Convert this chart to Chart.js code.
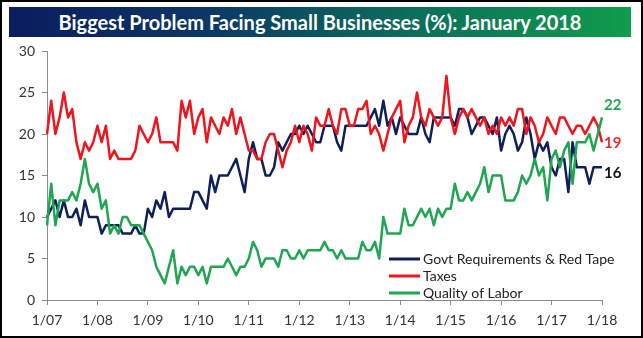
<!DOCTYPE html>
<html>
<head>
<meta charset="utf-8">
<script src="https://cdn.jsdelivr.net/npm/chart.js@4.4.1/dist/chart.umd.min.js"></script>
<style>
  html, body { margin: 0; padding: 0; background: #fff; }
  #wrap { position: relative; width: 643px; height: 338px; overflow: hidden; background: #fff; }
  #banner {
    position: absolute; left: 9px; top: 7px; width: 622px; height: 30px;
    background: linear-gradient(to right, #0b1c5e 0%, #0b3566 30%, #0b6a5c 62%, #0f9d4b 100%);
    color: #fff; font: bold 20px Lato, sans-serif; text-align: center; line-height: 30px;
  }
  #frame { position: absolute; left: 0; top: 0; width: 639px; height: 334px; border: 2px solid #000; pointer-events: none; }
  canvas { position: absolute; left: 0; top: 0; }
</style>
</head>
<body>
<div id="wrap">
  <canvas id="problemsChart" width="643" height="338"></canvas>
  <div id="banner">Biggest Problem Facing Small Businesses (%): January 2018</div>
  <div id="frame"></div>
</div>
<script>
// Monthly survey readings, Jan 2007 through Jan 2018
const yearTicks = ['1/07', '1/08', '1/09', '1/10', '1/11', '1/12', '1/13', '1/14', '1/15', '1/16', '1/17', '1/18'];

const months = [];
for (let y = 7; y <= 18; y++) {
    for (let m = 1; m <= 12; m++) {
        months.push(m + '/' + String(y).padStart(2, '0'));
        if (y === 18) break;
    }
}

const govtRedTape = [
    10, 11, 12, 10, 12, 10, 10, 11, 9, 12, 10, 10,
    10, 8, 9, 9, 9, 9, 8, 8, 8, 9, 8, 8,
    11, 10, 12, 11, 13, 10, 11, 11, 11, 11, 11, 13,
    13, 12, 11, 15, 13, 15, 15, 15, 16, 17, 15, 13,
    17, 19, 17, 17, 15, 15, 16, 19, 18, 19, 20, 20,
    21, 20, 21, 20, 19, 19, 21, 21, 21, 19, 18, 21,
    21, 21, 21, 21, 21, 22, 23, 21, 24, 21, 22, 20,
    22, 21, 20, 20, 20, 22, 20, 19, 22, 22, 22, 22,
    22, 21, 23, 23, 22, 20, 21, 22, 22, 21, 20, 22,
    18, 20, 21, 20, 18, 19, 22, 20, 17, 19, 18, 19,
    16, 15, 17, 17, 13, 19, 16, 16, 16, 14, 16, 16,
    16
];

const taxes = [
    20, 24, 20, 22, 25, 22, 23, 19, 17, 19, 18, 19,
    21, 19, 21, 17, 18, 17, 17, 17, 17, 18, 21, 20,
    19, 20, 22, 19, 19, 19, 19, 18, 24, 22, 24, 20,
    22, 23, 19, 22, 21, 20, 22, 21, 23, 20, 22, 20,
    18, 18, 17, 17, 19, 20, 20, 18, 16, 18, 19, 21,
    19, 21, 20, 18, 22, 21, 21, 23, 21, 20, 23, 23,
    21, 21, 23, 23, 24, 20, 21, 20, 18, 20, 22, 23,
    24, 19, 21, 22, 25, 22, 21, 23, 22, 21, 22, 27,
    22, 20, 22, 23, 22, 23, 22, 21, 22, 20, 21, 20,
    22, 21, 22, 21, 23, 23, 20, 22, 21, 19, 20, 22,
    21, 20, 22, 22, 21, 20, 21, 21, 20, 21, 22, 21,
    19
];

const qualityOfLabor = [
    9, 14, 9, 12, 12, 12, 13, 12, 14, 17, 14, 13,
    14, 11, 12, 8, 9, 8, 10, 10, 9, 9, 9, 8,
    7, 6, 4, 3, 2, 4, 6, 2, 4, 3, 4, 4,
    3, 4, 2, 4, 4, 4, 4, 5, 4, 3, 4, 4,
    5, 7, 6, 4, 5, 5, 5, 4, 6, 6, 5, 5,
    6, 5, 6, 6, 6, 6, 7, 6, 6, 5, 6, 5,
    5, 5, 5, 7, 6, 6, 7, 5, 10, 8, 8, 8,
    8, 11, 9, 9, 10, 11, 10, 11, 9, 11, 10, 11,
    11, 14, 12, 12, 13, 12, 13, 14, 16, 13, 15, 15,
    15, 12, 12, 12, 13, 15, 14, 15, 17, 15, 16, 12,
    17, 18, 16, 18, 19, 14, 19, 19, 19, 20, 18, 20,
    22
];

const seriesNames = ['Govt Requirements & Red Tape', 'Taxes', 'Quality of Labor'];
const seriesColors = ['#0f1f5a', '#f0141c', '#1ea650'];
const endLabelColors = ['#111111', '#ee2a2a', '#1ea650'];
const axisColor = '#8a8a8a';
const labelFont = { family: 'Lato', size: 14 };

// legend box and last-value labels drawn inside the plot
const overlay = {
    id: 'overlay',
    afterDatasetsDraw(chart) {
        const ctx = chart.ctx;
        const xs = chart.scales.x;
        const ys = chart.scales.y;
        ctx.save();

        // legend in the lower right corner
        ctx.font = '14px Lato';
        ctx.textBaseline = 'middle';
        seriesNames.forEach((name, i) => {
            const ly = 259 + i * 17;
            ctx.strokeStyle = seriesColors[i];
            ctx.lineWidth = 3;
            ctx.beginPath();
            ctx.moveTo(389, ly);
            ctx.lineTo(420, ly);
            ctx.stroke();
            ctx.fillStyle = '#222';
            ctx.fillText(name, 423, ly);
        });

        // latest readings at the right end of each line
        const last = months.length - 1;
        const lx = xs.getPixelForValue(last) + 2;
        const ends = [
            { v: govtRedTape[last], dy: 6, c: endLabelColors[0] },
            { v: taxes[last], dy: 1, c: endLabelColors[1] },
            { v: qualityOfLabor[last], dy: -12, c: endLabelColors[2] }
        ];
        ctx.font = 'bold 15px Lato';
        ctx.textAlign = 'left';
        ends.forEach(e => {
            ctx.fillStyle = e.c;
            ctx.fillText(String(e.v), lx, ys.getPixelForValue(e.v) + e.dy);
        });
        ctx.restore();
    }
};

const ctx = document.getElementById('problemsChart').getContext('2d');

new Chart(ctx, {
    type: 'line',
    data: {
        labels: months,
        datasets: [
            { label: seriesNames[0], data: govtRedTape, borderColor: seriesColors[0], order: 2 },
            { label: seriesNames[1], data: taxes, borderColor: seriesColors[1], order: 1 },
            { label: seriesNames[2], data: qualityOfLabor, borderColor: seriesColors[2], order: 0 }
        ].map(ds => Object.assign(ds, {
            borderWidth: 2.5,
            pointRadius: 0,
            tension: 0,
            fill: false,
            borderJoinStyle: 'round'
        }))
    },
    options: {
        responsive: false,
        animation: false,
        devicePixelRatio: 1,
        layout: { padding: { top: 51, right: 41, left: 0, bottom: 0 } },
        plugins: {
            legend: { display: false },
            title: { display: false },
            tooltip: { enabled: false }
        },
        scales: {
            x: {
                offset: false,
                afterFit: s => { s.height = 38; },
                border: { color: axisColor, width: 1 },
                grid: {
                    drawOnChartArea: false,
                    tickLength: 5,
                    color: c => (c.index % 12 === 0 ? axisColor : 'rgba(0,0,0,0)')
                },
                ticks: {
                    autoSkip: false,
                    maxRotation: 0,
                    minRotation: 0,
                    padding: 7,
                    color: '#333',
                    font: labelFont,
                    callback: (val, i) => (i % 12 === 0 ? yearTicks[i / 12] : '')
                }
            },
            y: {
                min: 0,
                max: 30,
                afterFit: s => { s.width = 47; },
                border: { color: axisColor, width: 1 },
                grid: { drawOnChartArea: false, tickLength: 5, color: axisColor },
                ticks: {
                    stepSize: 5,
                    padding: 7,
                    color: '#333',
                    font: labelFont
                }
            }
        }
    },
    plugins: [overlay]
});
</script>
</body>
</html>
